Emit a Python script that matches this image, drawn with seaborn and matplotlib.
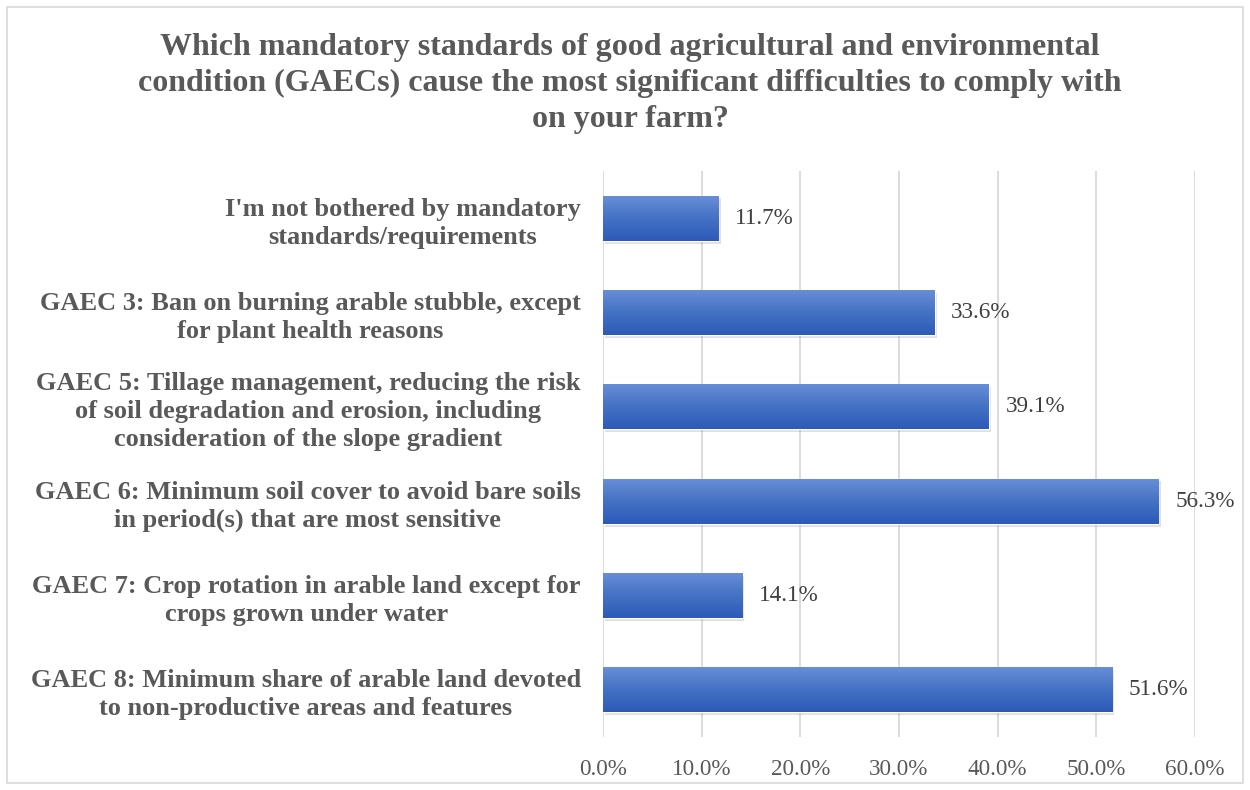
import numpy as np
import pandas as pd
import matplotlib
matplotlib.use("Agg")
import matplotlib.pyplot as plt
import matplotlib.patheffects as pe
from matplotlib.patches import Rectangle
from matplotlib.ticker import FuncFormatter, MultipleLocator
import seaborn as sns

# Data
categories = [
    "I'm not bothered by mandatory\nstandards/requirements",
    "GAEC 3: Ban on burning arable stubble, except\nfor plant health reasons",
    "GAEC 5: Tillage management, reducing the risk\nof soil degradation and erosion, including\nconsideration of the slope gradient",
    "GAEC 6: Minimum soil cover to avoid bare soils\nin period(s) that are most sensitive",
    "GAEC 7: Crop rotation in arable land except for\ncrops grown under water",
    "GAEC 8: Minimum share of arable land devoted\nto non-productive areas and features",
]
shares = [0.117, 0.336, 0.391, 0.563, 0.141, 0.516]

title = ("Which mandatory standards of good agricultural and environmental\n"
         "condition (GAECs) cause the most significant difficulties to comply with\n"
         "on your farm?")

df = pd.DataFrame({"category": categories, "share": shares})

sns.set_theme(style="white")
plt.rcParams["font.family"] = ["Liberation Serif", "DejaVu Serif"]

fig = plt.figure(figsize=(12.5, 7.9), dpi=100)
ax = fig.add_axes([603 / 1250, 1 - 737 / 790, (1195 - 603) / 1250, (737 - 171) / 790])

sns.barplot(data=df, x="share", y="category", color="#4472c4", width=0.48,
            ax=ax, zorder=3)

# gradient fill + soft shadow like the original
cmap = matplotlib.colors.LinearSegmentedColormap.from_list(
    "bar", ["#6a8fd8", "#4472c4", "#2d5ab8"])
grad = np.linspace(0, 1, 256).reshape(-1, 1)
for p in ax.patches:
    x0, y0 = p.get_x(), p.get_y()
    w, h = p.get_width(), p.get_height()
    p.set_path_effects([pe.SimplePatchShadow(offset=(1.5, -2), alpha=0.18,
                                             shadow_rgbFace="#555555"),
                        pe.Normal()])
    im = ax.imshow(grad, cmap=cmap, aspect="auto", extent=(x0, x0 + w, y0 + h, y0),
                   zorder=4, origin="upper")
    im.set_clip_path(p)

ax.set_xlim(0, 0.6)
ax.set_ylim(5.5, -0.5)
ax.xaxis.set_major_locator(MultipleLocator(0.1))
ax.xaxis.set_major_formatter(FuncFormatter(lambda v, _: f"{v * 100:.1f}%"))
ax.grid(axis="x", color="#d9d9d9", linewidth=1.3, zorder=0)
ax.set_axisbelow(True)
for s in ax.spines.values():
    s.set_visible(False)
ax.set_xlabel("")
ax.set_ylabel("")

ax.tick_params(axis="x", length=0, pad=16, labelsize=16.7, labelcolor="#595959")
ax.tick_params(axis="y", length=0, pad=16, labelsize=19, labelcolor="#595959")
for lbl in ax.get_yticklabels():
    lbl.set_fontweight("bold")
    lbl.set_multialignment("center")
    lbl.set_linespacing(1.28)

for i, v in enumerate(shares):
    ax.annotate(f"{v * 100:.1f}%", (v, i), xytext=(12, 0), textcoords="offset points",
                va="center", ha="left", fontsize=16.7, color="#404040")

fig.text(630 / 1250, 1 - 33 / 790, title, ha="center", va="top", fontsize=23,
         fontweight="bold", color="#595959", linespacing=1.32)

fig.patches.append(Rectangle((7 / 1250, 7 / 790), 1236 / 1250, 776 / 790,
                             transform=fig.transFigure, fill=False,
                             edgecolor="#d9d9d9", linewidth=1.2))

fig.savefig("out.png", dpi=100)
